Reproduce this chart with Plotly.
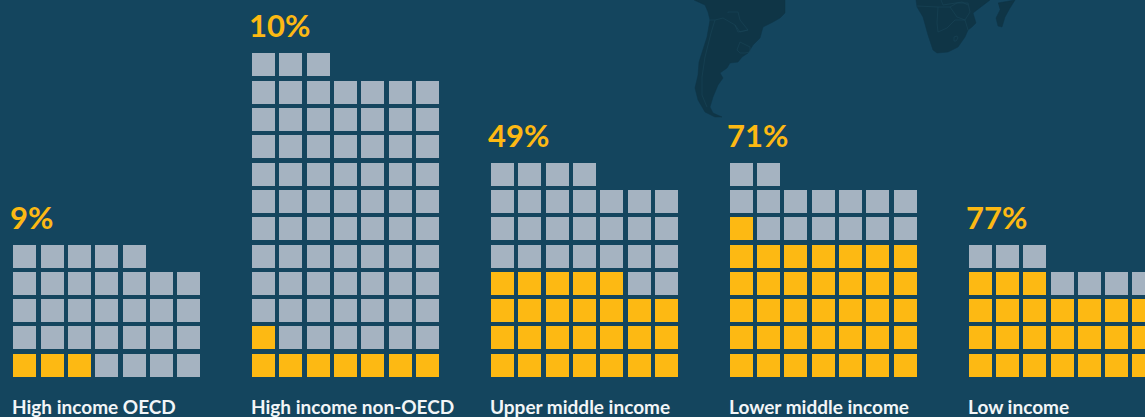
import math
import plotly.graph_objects as go

# ---------- data ----------
categories = ["High income OECD", "High income non-OECD", "Upper middle income",
              "Lower middle income", "Low income"]
total_cells = [33, 80, 53, 51, 31]
filled_cells = [3, 8, 26, 36, 24]
pct_labels = ["9%", "10%", "49%", "71%", "77%"]

# ---------- backdrop map (page-pixel outlines) ----------
south_america_x = [694, 705, 708, 710, 707, 703, 699, 698, 695, 698, 705, 715, 722, 713, 710, 713, 718, 723, 720, 727, 730, 738, 742, 748, 753, 760, 763, 773, 780, 785, 785]
south_america_y = [0, 5, 12, 20, 37, 50, 62, 75, 88, 100, 112, 117, 117, 113, 107, 97, 85, 78, 73, 68, 63, 62, 57, 53, 45, 38, 27, 22, 18, 13, 0]
africa_x = [916, 917, 923, 928, 933, 937, 948, 958, 965, 968, 972, 976, 973, 987, 990]
africa_y = [0, 7, 17, 35, 50, 53, 52, 47, 37, 30, 27, 23, 13, 3, 0]
madagascar_x = [998, 1015, 1010, 1005, 1002, 998, 996, 1000]
madagascar_y = [3, 0, 8, 17, 27, 26, 18, 10]
border_lines = [
    ([715, 711, 705, 702, 702, 707], [20, 33, 57, 77, 95, 107]),
    ([710, 715, 723, 735, 740, 748, 738, 735], [20, 20, 18, 25, 32, 30, 32, 25]),
    ([728, 728, 738, 740, 748], [13, 12, 12, 20, 30]),
    ([740, 750, 750, 745, 740, 737, 740], [42, 47, 52, 53, 53, 50, 42]),
    ([917, 938, 937, 938, 947, 955, 965], [6, 7, 23, 32, 28, 20, 20]),
    ([938, 950, 957, 965, 968, 968], [7, 7, 17, 20, 30, 30]),
    ([950, 957, 968, 970, 965], [7, 3, 3, 12, 20]),
    ([941, 943, 962, 968], [0, 5, 2, 5]),
]
lesotho_x = [954, 957, 958, 956, 954, 954]
lesotho_y = [37, 36, 38, 41, 41, 37]

# ---------- style ----------
BG, GREY, GOLD = "#14455E", "#A5B3C1", "#FDB913"
LAND, LAND_EDGE = "#0F3546", "#194457"
CELL = 23
COL_COUNT = 7


def cell_left(group, col):
    return math.floor(13.36 + 238.846 * group + 27.29 * col + 0.5)


def cell_top(row):
    return 354 - math.floor(row * 27.3 + 0.72)


fig = go.Figure()

for xs, ys in ((south_america_x, south_america_y), (africa_x, africa_y), (madagascar_x, madagascar_y)):
    fig.add_trace(go.Scatter(x=xs, y=ys, mode="lines", fill="toself", fillcolor=LAND,
                             line=dict(color=LAND, width=0.5), hoverinfo="skip"))
for xs, ys in border_lines + [(lesotho_x, lesotho_y)]:
    fig.add_trace(go.Scatter(x=xs, y=ys, mode="lines", line=dict(color=LAND_EDGE, width=0.6),
                             hoverinfo="skip"))

annotations = []
for g, (name, total, filled, pct) in enumerate(zip(categories, total_cells, filled_cells, pct_labels)):
    xs, ys, colors = [], [], []
    for i in range(total):
        row, col = divmod(i, COL_COUNT)
        xs.append(cell_left(g, col) + CELL / 2)
        ys.append(cell_top(row) + CELL / 2)
        colors.append(GOLD if i < filled else GREY)
    fig.add_trace(go.Scatter(x=xs, y=ys, mode="markers", name=name, hoverinfo="skip",
                             marker=dict(symbol="square", size=CELL, color=colors, line=dict(width=0))))
    top_row = (total - 1) // COL_COUNT
    annotations.append(dict(x=cell_left(g, 0) - 5, y=cell_top(top_row) - 28.5, text=pct, showarrow=False,
                            xanchor="left", yanchor="middle", xref="x", yref="y",
                            font=dict(family="Lato", size=31, color=GOLD, weight=700)))
    annotations.append(dict(x=cell_left(g, 0) - 3, y=406.5, text=name, showarrow=False,
                            xanchor="left", yanchor="middle", xref="x", yref="y",
                            font=dict(family="Lato", size=19, color="#F2F5F7", weight=700)))

fig.update_layout(
    width=1145, height=417, margin=dict(l=0, r=0, t=0, b=0),
    paper_bgcolor=BG, plot_bgcolor=BG, showlegend=False, annotations=annotations,
    xaxis=dict(range=[0, 1145], visible=False, fixedrange=True),
    yaxis=dict(range=[417, 0], visible=False, fixedrange=True),
)
fig.write_html("out.html", config=dict(displayModeBar=False),
               post_script="document.body.style.margin='0';document.body.style.overflow='hidden';")
